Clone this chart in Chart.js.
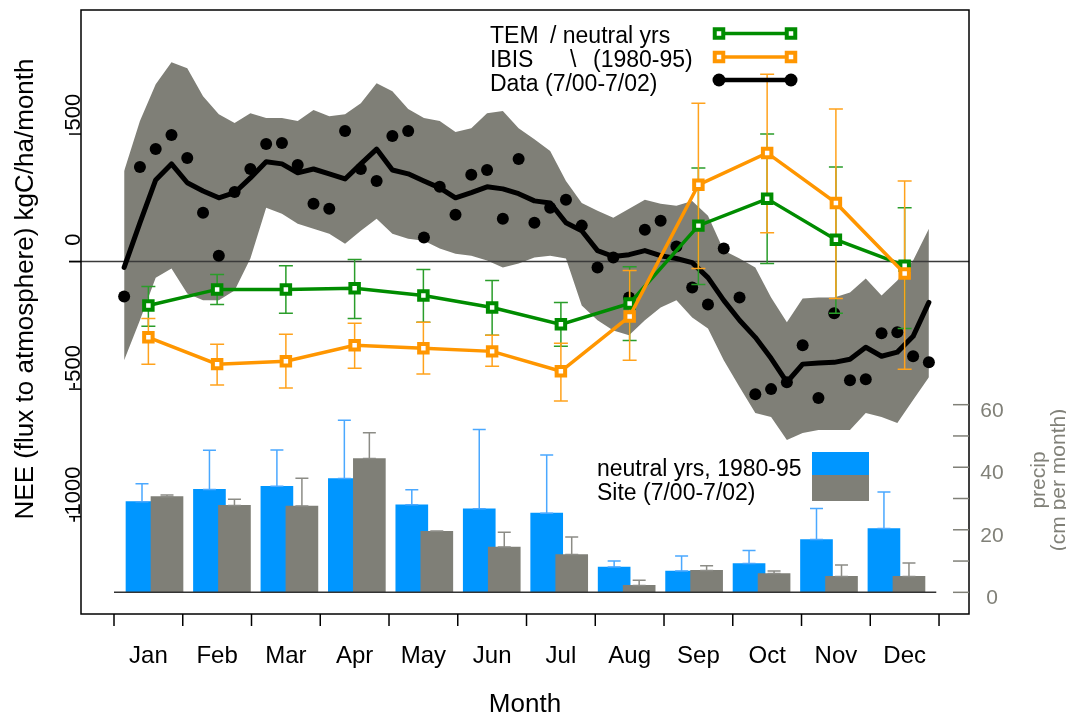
<!DOCTYPE html>
<html>
<head>
<meta charset="utf-8">
<script src="https://cdn.jsdelivr.net/npm/chart.js@4.4.0/dist/chart.umd.min.js"></script>
<style>
  html, body { margin: 0; padding: 0; background: #ffffff; }
  #wrap { width: 1066px; height: 715px; }
</style>
</head>
<body>
<div id="wrap"><canvas id="c" width="1066" height="715"></canvas></div>
<script>
// ---- monthly categories ----
const months = ['Jan','Feb','Mar','Apr','May','Jun','Jul','Aug','Sep','Oct','Nov','Dec'];

// ---- model NEE, neutral years 1980-95 (kgC/ha/month) ----
const temNEE   = [-172, -109, -109, -105, -133, -180, -246, -164, 141, 246, 86, -16];
const temHigh  = [-98, -51, -16, 8, -31, -74, -160, -20, 367, 500, 371, 211];
const temLow   = [-254, -168, -203, -223, -238, -289, -332, -309, -90, -8, -203, -262];
const ibisNEE  = [-297, -402, -391, -328, -340, -352, -430, -215, 301, 426, 230, -47];
const ibisHigh = [-223, -324, -285, -242, -238, -289, -320, -35, 621, 734, 598, 316];
const ibisLow  = [-402, -484, -496, -418, -441, -410, -547, -387, -27, 113, -145, -422];

// ---- site data 7/00-7/02, weekly (kgC/ha/month) ----
const siteWeekly = [-137, 371, 441, 496, 406, 191, 23, 273, 363, 461, 465, 379, 227,
  207, 512, 363, 316, 492, 512, 94, 293, 184, 340, 359, 168, 402, 152, 211, 242, 141,
  -23, 16, -141, 125, 160, 59, -102, -168, 51, -141, -520, -500, -473, -328, -535,
  -203, -465, -461, -281, -277, -371, -395];
const siteMean = [-23, 152, 320, 383, 309, 277, 250, 270, 328, 391, 383, 348, 363,
  344, 324, 383, 441, 359, 344, 316, 289, 250, 270, 293, 285, 266, 238, 230, 152, 121,
  43, 20, 27, 43, 23, 12, -4, -63, -152, -230, -297, -379, -473, -402, -398, -395,
  -383, -336, -371, -355, -293, -160];
const siteBandHigh = [355, 551, 695, 781, 758, 648, 578, 543, 582, 563, 563, 551, 594,
  570, 578, 621, 699, 668, 598, 563, 551, 508, 523, 582, 590, 523, 480, 434, 316, 230,
  199, 172, 207, 242, 227, 219, 238, 180, 43, 12, -23, -141, -238, -145, -141, -141,
  -121, -66, -133, -74, 4, 129];
const siteBandLow = [-387, -230, -63, -27, -125, -152, -152, -113, 12, 211, 188, 148, 129,
  109, 70, 121, 168, 109, 90, 82, 51, 31, 23, 4, -23, -8, 16, 23, 12, -172,
  -230, -270, -289, -230, -180, -152, -219, -262, -387, -492, -594, -609, -699, -672,
  -660, -660, -660, -594, -609, -633, -543, -453];

// ---- precipitation (cm per month): mean and mean + sd ----
const precipNeutral    = [29.0, 32.9, 33.9, 36.4, 28.0, 26.7, 25.3, 8.1, 6.8, 9.2, 16.9, 20.4];
const precipNeutralTop = [34.7, 45.4, 45.5, 55.0, 32.8, 52.1, 43.9, 10.0, 11.6, 13.4, 26.8, 32.1];
const precipSite       = [30.6, 27.8, 27.6, 42.8, 19.5, 14.5, 12.1, 2.2, 7.0, 6.0, 5.1, 5.1];
const precipSiteTop    = [31.1, 29.8, 36.5, 51.0, 19.6, 19.2, 17.7, 3.9, 8.5, 6.8, 8.7, 9.4];

// ---- axis ticks ----
const neeTicks = [500, 0, -500, -1000];
const precipTicks = [0, 10, 20, 30, 40, 50, 60];
const precipLabelTicks = [0, 20, 40, 60];

// week k sits at day-of-year 7k+4.5; months are 30.5 days on the time axis
const weekPos = siteWeekly.map((_, k) => (7 * k + 4.5) / 30.5);
const monthPos = months.map((_, i) => i + 0.5);

const FONT = '"Liberation Sans", Arial, Helvetica, sans-serif';
const GREEN = '#008c00', GREEN_ERR = '#2a9d2a';
const ORANGE = '#ff9600', ORANGE_ERR = '#ffa21c';
const BAND = '#7f7f77', BLUE = '#0096ff', GREY_TXT = '#808078';

const pts = (xs, ys) => ys.map((v, i) => ({ x: xs[i], y: v }));
const idx = (ys) => ys.map((v, i) => ({ x: i, y: v }));

function drawErrorBars(ctx, xs, yScale, xScale, hi, lo, color, cap) {
  ctx.save();
  ctx.strokeStyle = color;
  ctx.lineWidth = 1.5;
  hi.forEach((h, i) => {
    const px = xScale.getPixelForValue(xs[i]);
    const pTop = yScale.getPixelForValue(h);
    const pBot = yScale.getPixelForValue(lo[i]);
    ctx.beginPath();
    ctx.moveTo(px, pTop); ctx.lineTo(px, pBot);
    ctx.moveTo(px - cap, pTop); ctx.lineTo(px + cap, pTop);
    ctx.moveTo(px - cap, pBot); ctx.lineTo(px + cap, pBot);
    ctx.stroke();
  });
  ctx.restore();
}

function legendSquare(ctx, x, y, color) {
  ctx.save();
  ctx.fillStyle = '#fff';
  ctx.strokeStyle = color;
  ctx.lineWidth = 4;
  ctx.fillRect(x - 4.25, y - 4.25, 8.5, 8.5);
  ctx.strokeRect(x - 4.25, y - 4.25, 8.5, 8.5);
  ctx.restore();
}

const decor = {
  id: 'decor',
  beforeDatasetDraw(chart, args) {
    if (args.index === 4) {
      const { ctx, scales } = chart;
      drawErrorBars(ctx, monthPos, scales.y, scales.x, temHigh, temLow, GREEN_ERR, 7);
      drawErrorBars(ctx, monthPos, scales.y, scales.x, ibisHigh, ibisLow, ORANGE_ERR, 7);
    }
  },
  afterDatasetDraw(chart, args) {
    const { ctx, scales, chartArea: ca } = chart;
    if (args.index === 1) {
      // NEE zero reference line
      const y0 = scales.y.getPixelForValue(0);
      ctx.save();
      ctx.strokeStyle = '#3a3a3a';
      ctx.lineWidth = 1.5;
      ctx.beginPath();
      ctx.moveTo(ca.left - 12, y0); ctx.lineTo(ca.right, y0);
      ctx.stroke();
      ctx.restore();
    }
    if (args.index === 6) {
      const idxs = months.map((_, i) => i);
      drawErrorBars(ctx, idxs, scales.yP, scales.xBlue, precipNeutralTop, precipNeutral, '#4aa8ff', 6.5);
      drawErrorBars(ctx, idxs, scales.yP, scales.xGray, precipSiteTop, precipSite, '#8c8c86', 6.5);
      // precip baseline
      const yb = scales.yP.getPixelForValue(0);
      ctx.save();
      ctx.strokeStyle = '#333';
      ctx.lineWidth = 1.5;
      ctx.beginPath();
      ctx.moveTo(scales.x.getPixelForValue(0), yb);
      ctx.lineTo(scales.x.getPixelForValue(11.96), yb);
      ctx.stroke();
      ctx.restore();
    }
  },
  afterDraw(chart) {
    const { ctx, scales, chartArea: ca } = chart;
    const x = scales.x, y = scales.y, yP = scales.yP;
    ctx.save();
    // frame
    ctx.strokeStyle = '#000';
    ctx.lineWidth = 1.5;
    ctx.strokeRect(ca.left, ca.top, ca.right - ca.left, ca.bottom - ca.top);

    // left NEE axis
    ctx.fillStyle = '#000';
    ctx.font = '22px ' + FONT;
    ctx.textAlign = 'center';
    ctx.textBaseline = 'alphabetic';
    neeTicks.forEach(v => {
      const py = y.getPixelForValue(v);
      ctx.beginPath();
      ctx.moveTo(ca.left - 12, py); ctx.lineTo(ca.left, py);
      ctx.stroke();
      ctx.save();
      ctx.translate(ca.left - 1, py - 22);
      ctx.rotate(-Math.PI / 2);
      ctx.fillText(String(v), 0, 0);
      ctx.restore();
    });
    ctx.save();
    ctx.font = '26px ' + FONT;
    ctx.translate(33, 289);
    ctx.rotate(-Math.PI / 2);
    ctx.fillText('NEE (flux to atmosphere) kgC/ha/month', 0, 0);
    ctx.restore();

    // bottom month axis
    ctx.font = '24px ' + FONT;
    for (let i = 0; i <= 12; i++) {
      const px = x.getPixelForValue(i);
      ctx.beginPath();
      ctx.moveTo(px, ca.bottom); ctx.lineTo(px, ca.bottom + 12);
      ctx.stroke();
    }
    months.forEach((m, i) => ctx.fillText(m, x.getPixelForValue(i + 0.5), 663));
    ctx.font = '26px ' + FONT;
    ctx.fillText('Month', (ca.left + ca.right) / 2, 712);

    // right precip axis
    ctx.strokeStyle = GREY_TXT;
    ctx.fillStyle = GREY_TXT;
    precipTicks.forEach(v => {
      const py = yP.getPixelForValue(v);
      ctx.beginPath();
      ctx.moveTo(ca.right - 16, py); ctx.lineTo(ca.right, py);
      ctx.stroke();
    });
    ctx.font = '21px ' + FONT;
    precipLabelTicks.forEach(v => {
      ctx.fillText(String(v), 992, yP.getPixelForValue(v) + 12);
    });
    ctx.save();
    ctx.translate(1045, 480);
    ctx.rotate(-Math.PI / 2);
    ctx.fillText('precip', 0, 0);
    ctx.fillText('(cm per month)', 0, 20);
    ctx.restore();

    // model / data legend
    ctx.fillStyle = '#000';
    ctx.font = '23px ' + FONT;
    ctx.textAlign = 'left';
    ctx.fillText('TEM', 490, 43);
    ctx.fillText('/ neutral yrs', 550, 43);
    ctx.fillText('IBIS', 490, 67);
    ctx.fillText('\\', 570, 67);
    ctx.fillText('(1980-95)', 593, 67);
    ctx.fillText('Data (7/00-7/02)', 490, 91);
    const lx0 = 719, lx1 = 791;
    [[33.5, GREEN], [57, ORANGE]].forEach(([ly, col]) => {
      ctx.strokeStyle = col;
      ctx.lineWidth = 3.5;
      ctx.beginPath(); ctx.moveTo(lx0, ly); ctx.lineTo(lx1, ly); ctx.stroke();
      legendSquare(ctx, lx0, ly, col);
      legendSquare(ctx, lx1, ly, col);
    });
    ctx.strokeStyle = '#000';
    ctx.lineWidth = 4.5;
    ctx.beginPath(); ctx.moveTo(lx0, 80); ctx.lineTo(lx1, 80); ctx.stroke();
    [lx0, lx1].forEach(cx => { ctx.beginPath(); ctx.arc(cx, 80, 6.5, 0, 2 * Math.PI); ctx.fill(); });

    // precip legend
    ctx.fillText('neutral yrs, 1980-95', 597, 476);
    ctx.fillText('Site (7/00-7/02)', 597, 500);
    ctx.fillStyle = BLUE;
    ctx.fillRect(812, 452, 57, 23);
    ctx.fillStyle = BAND;
    ctx.fillRect(812, 475, 57, 26);
    ctx.restore();
  }
};

new Chart(document.getElementById('c'), {
  type: 'line',
  data: {
    datasets: [
      { label: 'band low', data: pts(weekPos, siteBandLow), xAxisID: 'x', yAxisID: 'y',
        borderColor: 'rgba(0,0,0,0)', borderWidth: 0, pointRadius: 0, fill: false, order: 20 },
      { label: 'band high', data: pts(weekPos, siteBandHigh), xAxisID: 'x', yAxisID: 'y',
        borderColor: 'rgba(0,0,0,0)', borderWidth: 0, pointRadius: 0,
        backgroundColor: BAND, fill: '-1', order: 20 },
      { label: 'Data mean', data: pts(weekPos, siteMean), xAxisID: 'x', yAxisID: 'y',
        borderColor: '#000', borderWidth: 5, pointRadius: 0, fill: false, order: 15,
        borderJoinStyle: 'round', borderCapStyle: 'round' },
      { label: 'Data (7/00-7/02)', data: pts(weekPos, siteWeekly), xAxisID: 'x', yAxisID: 'y',
        showLine: false, pointRadius: 6, pointBackgroundColor: '#000', pointBorderWidth: 0,
        borderColor: '#000', order: 14 },
      { label: 'TEM', data: pts(monthPos, temNEE), xAxisID: 'x', yAxisID: 'y',
        borderColor: GREEN, borderWidth: 3.5, pointStyle: 'rect', pointRadius: 6,
        pointBorderWidth: 4, pointBorderColor: GREEN, pointBackgroundColor: '#fff',
        fill: false, order: 13 },
      { label: 'IBIS', data: pts(monthPos, ibisNEE), xAxisID: 'x', yAxisID: 'y',
        borderColor: ORANGE, borderWidth: 3.5, pointStyle: 'rect', pointRadius: 6,
        pointBorderWidth: 4, pointBorderColor: ORANGE, pointBackgroundColor: '#fff',
        fill: false, order: 12 },
      { type: 'bar', label: 'Site (7/00-7/02)', data: idx(precipSite), xAxisID: 'xGray', yAxisID: 'yP',
        backgroundColor: BAND, grouped: false, barPercentage: 1, categoryPercentage: 1,
        maxBarThickness: 32, order: 30 },
      { type: 'bar', label: 'neutral yrs, 1980-95', data: idx(precipNeutral), xAxisID: 'xBlue', yAxisID: 'yP',
        backgroundColor: BLUE, grouped: false, barPercentage: 1, categoryPercentage: 1,
        maxBarThickness: 32, order: 31 }
    ]
  },
  options: {
    responsive: false,
    animation: false,
    devicePixelRatio: 1,
    layout: { padding: { left: 81, top: 9, right: 97, bottom: 101 } },
    plugins: { legend: { display: false }, tooltip: { enabled: false }, title: { display: false } },
    scales: {
      x:     { type: 'linear', display: false, offset: false, min: -0.48, max: 12.436 },
      xBlue: { type: 'linear', display: false, offset: false, min: -0.9044, max: 12.261 },
      xGray: { type: 'linear', display: false, offset: false, min: -1.275, max: 11.890 },
      y:     { type: 'linear', display: false, min: -1381.6, max: 986.3 },
      yP:    { type: 'linear', display: false, min: -6.93, max: 186.2 }
    }
  },
  plugins: [decor]
});
</script>
</body>
</html>
